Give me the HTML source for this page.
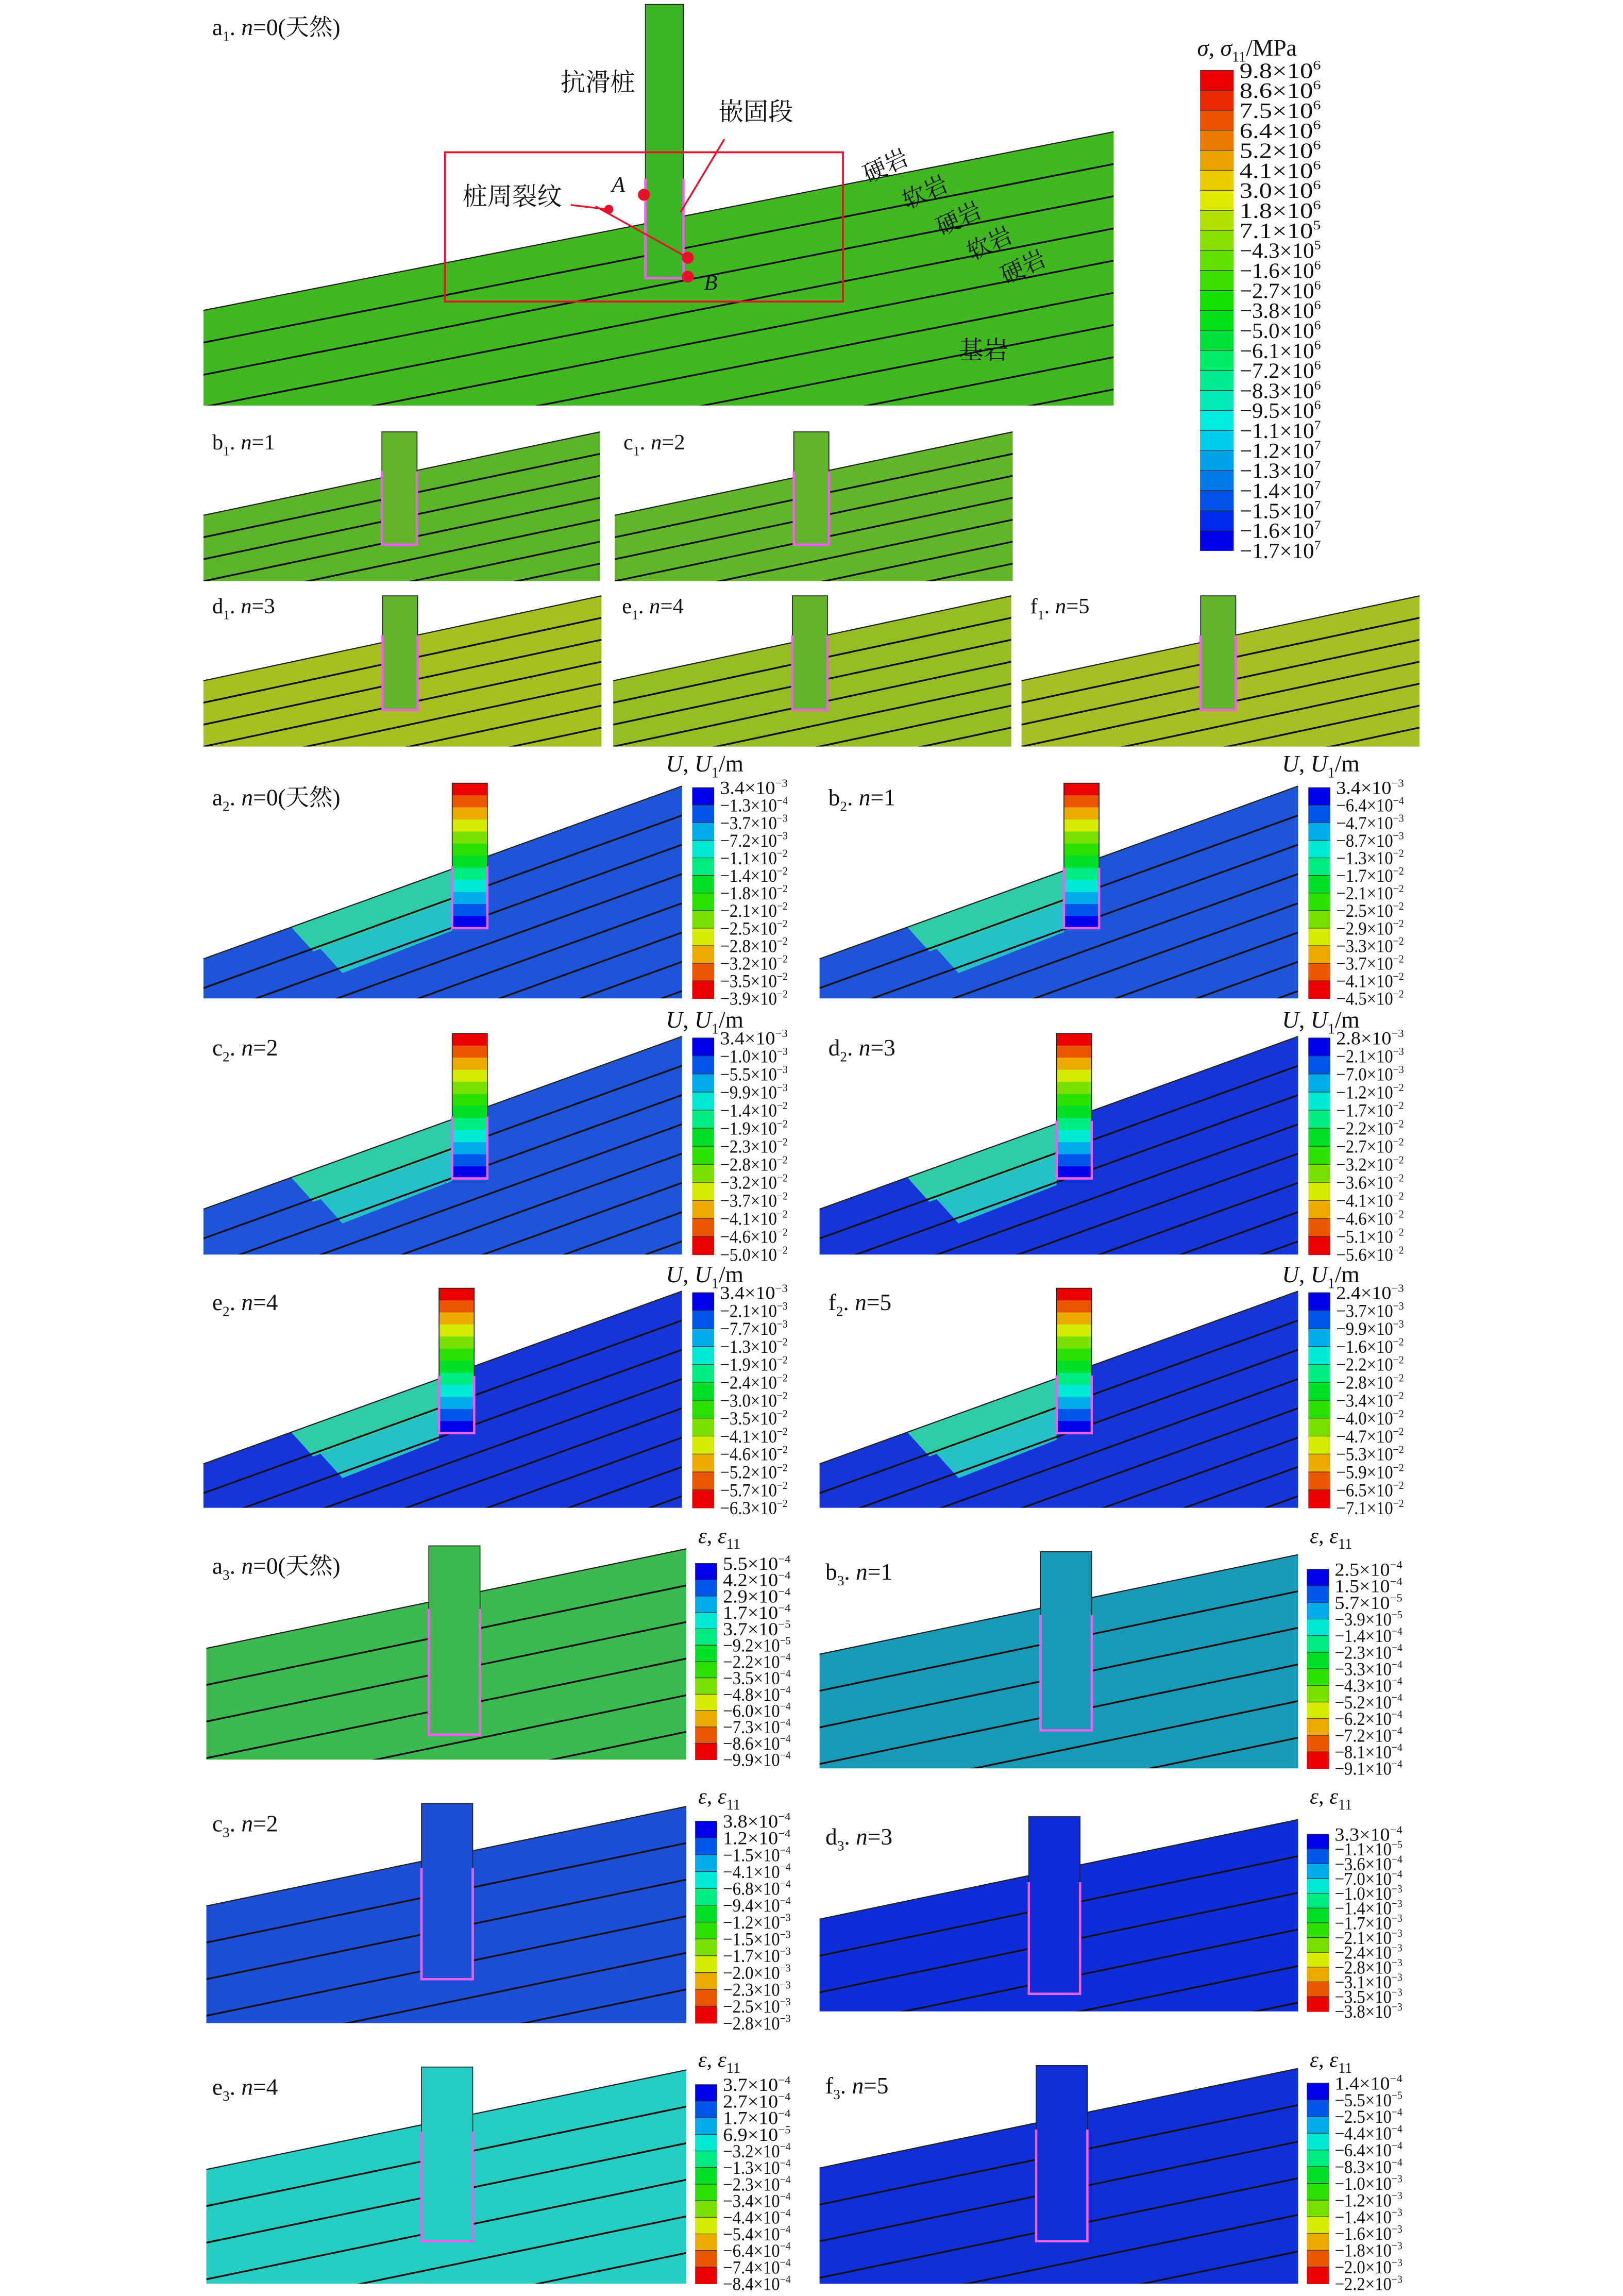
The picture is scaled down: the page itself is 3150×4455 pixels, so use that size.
<!DOCTYPE html>
<html><head><meta charset="utf-8">
<style>
html,body{margin:0;padding:0;background:#fff;width:3150px;height:4455px;overflow:hidden;}
svg{display:block;}
text{font-family:"Liberation Serif","Noto Serif CJK SC",serif;fill:#111;}
</style></head>
<body>
<svg id="s" width="3150" height="4455" viewBox="0 0 1109 1568.4" xmlns="http://www.w3.org/2000/svg"></svg>
<script>
var S=document.getElementById('s'),out=[],cid=0;
function col(t){var h=240*(1-t);return 'hsl('+h+',100%,'+(t>0.4&&t<0.7?44:46)+'%)';}
function panel(o){
 var id='c'+(cid++);
 out.push('<clipPath id="'+id+'"><polygon points="'+o.x0+','+o.yl+' '+o.x1+','+o.yr+' '+o.x1+','+o.yb+' '+o.x0+','+o.yb+'"/></clipPath>');
 out.push('<polygon points="'+o.x0+','+o.yl+' '+o.x1+','+o.yr+' '+o.x1+','+o.yb+' '+o.x0+','+o.yb+'" fill="'+o.fill+'"/>');
 if(o.band){out.push('<g clip-path="url(#'+id+')">'+o.band+'</g>');}
 var g='<g clip-path="url(#'+id+')" stroke="#111" stroke-width="1.2">';
 for(var k=1;k<14;k++){var dy=k*o.d;g+='<line x1="'+o.x0+'" y1="'+(o.yl+dy)+'" x2="'+o.x1+'" y2="'+(o.yr+dy)+'"/>';}
 g+='</g>';out.push(g);
 out.push('<line x1="'+o.x0+'" y1="'+o.yl+'" x2="'+o.x1+'" y2="'+o.yr+'" stroke="#222" stroke-width="0.8"/>');
 var p=o.pile;
 if(p){
  if(o.grad){var n=12,h=(p.yb-p.yt)/n;for(var i=0;i<n;i++)out.push('<rect x="'+p.x+'" y="'+(p.yt+i*h)+'" width="'+p.w+'" height="'+(h+0.3)+'" fill="'+col(1-i/(n-1))+'"/>');}
  else out.push('<rect x="'+p.x+'" y="'+p.yt+'" width="'+p.w+'" height="'+(p.yb-p.yt)+'" fill="'+o.pf+'"/>');
  out.push('<rect x="'+p.x+'" y="'+p.yt+'" width="'+p.w+'" height="'+(p.yb-p.yt)+'" fill="none" stroke="#222" stroke-width="0.6"/>');
  out.push('<polyline points="'+p.x+','+p.ye+' '+p.x+','+p.yb+' '+(p.x+p.w)+','+p.yb+' '+(p.x+p.w)+','+p.ye+'" fill="none" stroke="#f060f0" stroke-width="1.6"/>');
 }
}
function lab(x,y,l,sub,rest,fs){fs=fs||15;out.push('<text x="'+x+'" y="'+y+'" font-size="'+fs+'">'+l+'<tspan font-size="'+(fs*0.6)+'" dy="4">'+sub+'</tspan><tspan dy="-4">. </tspan><tspan font-style="italic">n</tspan>'+rest+'</text>');}
function legend(x,y0,y1,labels,topRed,title){
 var n=labels.length,cells=n-1,h=(y1-y0)/cells,bw=(title=='s')?23:15;
 for(var i=0;i<cells;i++){var t=i/(cells-1);out.push('<rect x="'+x+'" y="'+(y0+i*h)+'" width="'+bw+'" height="'+(h+0.3)+'" fill="'+col(topRed?1-t:t)+'"/>');
  out.push('<line x1="'+x+'" x2="'+(x+bw)+'" y1="'+(y0+i*h)+'" y2="'+(y0+i*h)+'" stroke="#333" stroke-width="0.4"/>');}
 var fs=title=='s'?15:12.5;
 for(var i=0;i<n;i++){var L=labels[i],m=L.split('^');var yy=y0+(i*(y1-y0)/(n-1))+fs*0.35;
  out.push('<text x="'+(x+bw+4)+'" y="'+yy+'" font-size="'+fs+'" textLength="'+(fs*3.7)+'" lengthAdjust="spacingAndGlyphs">'+m[0].replace('-','\u2212')+'×10<tspan font-size="'+(fs*0.6)+'" dy="-'+(fs*0.4)+'">'+m[1].replace('-','\u2212')+'</tspan></text>');}
}
// ===== Section 1 =====
var G1='#40b820';
panel({x0:139,x1:761,yb:277,yl:212,yr:90,fill:G1,d:22,pile:{x:441,w:26,yt:3,ye:122,yb:190},pf:'#3cb525'});
out.push('<rect x="304" y="104" width="272" height="102" fill="none" stroke="#e8102a" stroke-width="1.3"/>');
out.push('<text x="383" y="62" font-size="17">抗滑桩</text><text x="491" y="82" font-size="17">嵌固段</text><text x="316" y="140" font-size="17">桩周裂纹</text><text x="655" y="245" font-size="17">基岩</text>');
out.push('<text x="418" y="131" font-size="15" font-style="italic">A</text><text x="481" y="198" font-size="15" font-style="italic">B</text>');
[['硬岩',593,125],['软岩',620,143],['硬岩',643,161],['软岩',664,178],['硬岩',687,194]].forEach(function(a){out.push('<text x="'+a[1]+'" y="'+a[2]+'" font-size="16" transform="rotate(-25 '+a[1]+' '+a[2]+')">'+a[0]+'</text>');});
out.push('<g stroke="#e8102a" stroke-width="1.2" fill="#e8102a"><line x1="495" y1="95" x2="465" y2="145"/><line x1="390" y1="140" x2="415" y2="143"/><line x1="407" y1="141" x2="470" y2="176"/><circle cx="440" cy="133" r="3.5"/><circle cx="470" cy="176" r="3.5"/><circle cx="470" cy="189" r="3.5"/><circle cx="416" cy="143" r="2.5"/></g>');
lab(145,24,'a','1','=0(天然)',16);
var sm=[[139,410,295,397,'#5cb42a','b','=1',295],[420,692,295,397,'#62b62a','c','=2',295],[139,411,407,510,'#a8bf22','d','=3',407],[419,691,407,510,'#96bd24','e','=4',407],[698,970,407,510,'#a4c024','f','=5',407]];
sm.forEach(function(a){var w=a[1]-a[0],px=a[0]+w*0.45;panel({x0:a[0],x1:a[1],yb:a[3],yl:a[3]-45,yr:a[2],fill:a[4],d:15,pile:{x:px,w:24,yt:a[2],ye:a[2]+27,yb:a[3]-25},pf:'#62b42a'});lab(a[0]+6,a[7]+12,a[5],'1',a[6],15);});
out.push('<text x="818" y="38" font-size="16"><tspan font-style="italic">σ</tspan>, <tspan font-style="italic">σ</tspan><tspan font-size="10" dy="4">11</tspan><tspan dy="-4">/MPa</tspan></text>');
legend(820,48,376,['9.8^6','8.6^6','7.5^6','6.4^6','5.2^6','4.1^6','3.0^6','1.8^6','7.1^5','-4.3^5','-1.6^6','-2.7^6','-3.8^6','-5.0^6','-6.1^6','-7.2^6','-8.3^6','-9.5^6','-1.1^7','-1.2^7','-1.3^7','-1.4^7','-1.5^7','-1.6^7','-1.7^7'],true,'s');
// ===== Section 2 =====
var B='#1e55d8',BD='#1535d8';
function lb2(x,ty,y0,y1,labs){out.push('<text x="'+(x-18)+'" y="'+ty+'" font-size="16"><tspan font-style="italic">U</tspan>, <tspan font-style="italic">U</tspan><tspan font-size="10" dy="4">1</tspan><tspan dy="-4">/m</tspan></text>');legend(x,y0,y1,labs,false,'u');}
var s2=[
 [139,466,682,537,309,'a',B,'=0(天然)',527,['3.4^-3','-1.3^-4','-3.7^-3','-7.2^-3','-1.1^-2','-1.4^-2','-1.8^-2','-2.1^-2','-2.5^-2','-2.8^-2','-3.2^-2','-3.5^-2','-3.9^-2']],
 [560,887,682,537,727,'b',B,'=1',527,['3.4^-3','-6.4^-4','-4.7^-3','-8.7^-3','-1.3^-2','-1.7^-2','-2.1^-2','-2.5^-2','-2.9^-2','-3.3^-2','-3.7^-2','-4.1^-2','-4.5^-2']],
 [139,466,857,708,309,'c',B,'=2',702,['3.4^-3','-1.0^-3','-5.5^-3','-9.9^-3','-1.4^-2','-1.9^-2','-2.3^-2','-2.8^-2','-3.2^-2','-3.7^-2','-4.1^-2','-4.6^-2','-5.0^-2']],
 [560,887,857,708,722,'d',BD,'=3',702,['2.8^-3','-2.1^-3','-7.0^-3','-1.2^-2','-1.7^-2','-2.2^-2','-2.7^-2','-3.2^-2','-3.6^-2','-4.1^-2','-4.6^-2','-5.1^-2','-5.6^-2']],
 [139,466,1030,882,300,'e',BD,'=4',876,['3.4^-3','-2.1^-3','-7.7^-3','-1.3^-2','-1.9^-2','-2.4^-2','-3.0^-2','-3.5^-2','-4.1^-2','-4.6^-2','-5.2^-2','-5.7^-2','-6.3^-2']],
 [560,887,1030,882,722,'f',BD,'=5',876,['2.4^-3','-3.7^-3','-9.9^-3','-1.6^-2','-2.2^-2','-2.8^-2','-3.4^-2','-4.0^-2','-4.7^-2','-5.3^-2','-5.9^-2','-6.5^-2','-7.1^-2']]];
s2.forEach(function(a){var yl=a[3]+118,sl=(yl-a[3])/(a[1]-a[0]);var py=yl-(a[4]-a[0])*sl;
 var pr=function(x,y){return x+','+y;};
 var band='<polygon points="'+pr(a[0]+60,yl-60*sl)+' '+pr(a[4],py)+' '+pr(a[4],py+22)+' '+pr(a[0]+75,yl-75*sl+22)+'" fill="#2ecda8"/><polygon points="'+pr(a[0]+80,yl-80*sl+22)+' '+pr(a[4],py+22)+' '+pr(a[4],py+42)+' '+pr(a[0]+95,yl-95*sl+44)+'" fill="#26c0c8"/>';
 panel({x0:a[0],x1:a[1],yb:a[2],yl:yl,yr:a[3],fill:a[6],d:20,pile:{x:a[4],w:24,yt:a[3]-2,ye:py-2,yb:a[3]+97},grad:true,band:band});
 lab(a[0]+6,a[3]+13,a[5],'2',a[7],16);lb2(a[1]+7,a[8],a[3]+1,a[2],a[9]);});
// ===== Section 3 =====
var s3=[
 [141,469,1202,1058,293,'a','#3cba50','=0(天然)',1050,['5.5^-4','4.2^-4','2.9^-4','1.7^-4','3.7^-5','-9.2^-5','-2.2^-4','-3.5^-4','-4.8^-4','-6.0^-4','-7.3^-4','-8.6^-4','-9.9^-4'],1185],
 [560,887,1208,1062,711,'b','#199bb8','=1',1050,['2.5^-4','1.5^-4','5.7^-5','-3.9^-5','-1.4^-4','-2.3^-4','-3.3^-4','-4.3^-4','-5.2^-4','-6.2^-4','-7.2^-4','-8.1^-4','-9.1^-4'],1182],
 [141,469,1382,1234,288,'c','#1c4fd6','=2',1228,['3.8^-4','1.2^-4','-1.5^-4','-4.1^-4','-6.8^-4','-9.4^-4','-1.2^-3','-1.5^-3','-1.7^-3','-2.0^-3','-2.3^-3','-2.5^-3','-2.8^-3'],1352],
 [560,887,1374,1243,703,'d','#0c2dd8','=3',1228,['3.3^-4','-1.1^-5','-3.6^-4','-7.0^-4','-1.0^-3','-1.4^-3','-1.7^-3','-2.1^-3','-2.4^-3','-2.8^-3','-3.1^-3','-3.5^-3','-3.8^-3'],1362],
 [141,469,1560,1414,288,'e','#25cdc2','=4',1408,['3.7^-4','2.7^-4','1.7^-4','6.9^-5','-3.2^-4','-1.3^-4','-2.3^-4','-3.4^-4','-4.4^-4','-5.4^-4','-6.4^-4','-7.4^-4','-8.4^-4'],1531],
 [560,887,1560,1413,708,'f','#0f2fd8','=5',1408,['1.4^-4','-5.5^-5','-2.5^-4','-4.4^-4','-6.4^-4','-8.3^-4','-1.0^-3','-1.2^-3','-1.4^-3','-1.6^-3','-1.8^-3','-2.0^-3','-2.2^-3'],1531]];
s3.forEach(function(a){var yl=a[3]+68,sl=(yl-a[3])/(a[1]-a[0]);var py=yl-(a[4]+17-a[0])*sl;
 panel({x0:a[0],x1:a[1],yb:a[2],yl:yl,yr:a[3],fill:a[6],d:25,pile:{x:a[4],w:35,yt:a[3]-2,ye:py+8,yb:a[10]},pf:a[6]});
 lab(a[0]+4,a[3]+17,a[5],'3',a[7],16);
 var lx=a[1]+6;out.push('<text x="'+(lx+2)+'" y="'+(a[8]+4)+'" font-size="15"><tspan font-style="italic">ε</tspan>, <tspan font-style="italic">ε</tspan><tspan font-size="10" dy="4">11</tspan></text>');
 legend(lx,a[3]+10,a[2],a[9],false,'e');});
S.innerHTML=out.join('');
</script>
</body></html>
